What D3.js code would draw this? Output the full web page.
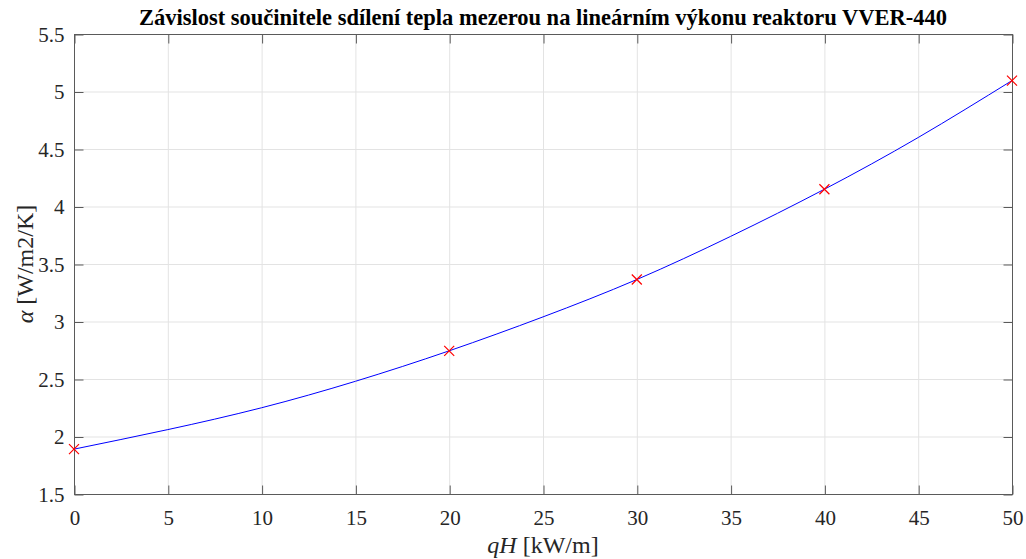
<!DOCTYPE html>
<html><head><meta charset="utf-8">
<script src="https://cdn.jsdelivr.net/npm/d3@7"></script>
<style>body{margin:0;background:#fff}svg{display:block}
svg text{font-family:"Liberation Serif","Times New Roman","DejaVu Serif",serif !important;}</style>
</head><body><svg id="c" width="1026" height="559"></svg>
<script>
// measured points
const pointX = [0, 20, 30, 40, 50];
const pointY = [1.89, 2.745, 3.365, 4.15, 5.095];
// fitted curve
const curveX = [0, 5, 10, 15, 20, 25, 30, 35, 40, 45, 50];
const curveY = [1.89, 2.06, 2.25, 2.48, 2.745, 3.04, 3.365, 3.74, 4.15, 4.60, 5.095];
const xTicks = [0, 5, 10, 15, 20, 25, 30, 35, 40, 45, 50];
const yTicks = [1.5, 2, 2.5, 3, 3.5, 4, 4.5, 5, 5.5];
const titleText = "Závislost součinitele sdílení tepla mezerou na lineárním výkonu reaktoru VVER-440";

const L = 74, R = 1012, T = 34, B = 494;
const svg = d3.select("#c");
const x = d3.scaleLinear().domain([0, 50]).range([L, R]);
const y = d3.scaleLinear().domain([1.5, 5.5]).range([B, T]);
const axisCol = "#5a5a5a";

// grid
const g = svg.append("g");
g.selectAll(".gx").data(xTicks).join("line")
  .attr("x1", d => x(d)+0.5).attr("x2", d => x(d)+0.5).attr("y1", T).attr("y2", B)
  .attr("stroke", "#e3e3e3").attr("stroke-width", 1);
g.selectAll(".gy").data(yTicks).join("line")
  .attr("y1", d => y(d)+0.5).attr("y2", d => y(d)+0.5).attr("x1", L).attr("x2", R)
  .attr("stroke", "#e3e3e3").attr("stroke-width", 1);

// axes
function styleAxis(sel) {
  sel.select(".domain").remove();
  sel.selectAll("line").attr("stroke", axisCol);
  sel.selectAll("text").attr("font-size", 21).attr("fill", "#262626");
}
const ax = svg.append("g").attr("transform", `translate(0.5,${B+0.5})`)
  .call(d3.axisBottom(x).tickValues(xTicks).tickSize(-9).tickPadding(16).tickFormat(d3.format("d")));
styleAxis(ax);
const axT = svg.append("g").attr("transform", `translate(0.5,${T+0.5})`)
  .call(d3.axisTop(x).tickValues(xTicks).tickSize(-9).tickFormat(""));
styleAxis(axT);
const ay = svg.append("g").attr("transform", `translate(${L+0.5},0.5)`)
  .call(d3.axisLeft(y).tickValues(yTicks).tickSize(-9).tickPadding(10).tickFormat(d => d3.format("")(d)));
styleAxis(ay);
const ayR = svg.append("g").attr("transform", `translate(${R+0.5},0.5)`)
  .call(d3.axisRight(y).tickValues(yTicks).tickSize(-9).tickFormat(""));
styleAxis(ayR);
// box
svg.append("rect").attr("x", L+0.5).attr("y", T+0.5).attr("width", R-L).attr("height", B-T)
  .attr("fill", "none").attr("stroke", axisCol).attr("stroke-width", 1);

// curve
const line = d3.line().x((d, i) => x(curveX[i])).y(d => y(d)).curve(d3.curveNatural);
svg.append("path").attr("d", line(curveY)).attr("fill", "none").attr("stroke", "#0000ff").attr("stroke-width", 1);

// markers
const ms = 5;
const mk = svg.append("g");
pointX.forEach((px, i) => {
  const cx = x(px), cy = y(pointY[i]);
  mk.append("path").attr("d", `M${cx-ms},${cy-ms}L${cx+ms},${cy+ms}M${cx-ms},${cy+ms}L${cx+ms},${cy-ms}`)
    .attr("stroke", "#ff0000").attr("stroke-width", 1.2).attr("fill", "none");
});

// title
svg.append("text").attr("x", (L+R)/2).attr("y", 25).attr("text-anchor", "middle")
  .attr("font-weight", "bold").attr("font-size", 22.5).attr("fill", "#000")
  .text(titleText);

// x label
const xl = svg.append("text").attr("x", (L+R)/2).attr("y", 553).attr("text-anchor", "middle")
  .attr("font-size", 24).attr("fill", "#262626");
xl.append("tspan").attr("font-style", "italic").text("qH");
xl.append("tspan").text(" [kW/m]");

// y label
const yl = svg.append("text").attr("transform", `translate(33,${(T+B)/2}) rotate(-90)`).attr("text-anchor", "middle")
  .attr("font-size", 24).attr("fill", "#262626");
yl.append("tspan").attr("font-style", "italic").text("α");
yl.append("tspan").text(" [W/m2/K]");
</script></body></html>
